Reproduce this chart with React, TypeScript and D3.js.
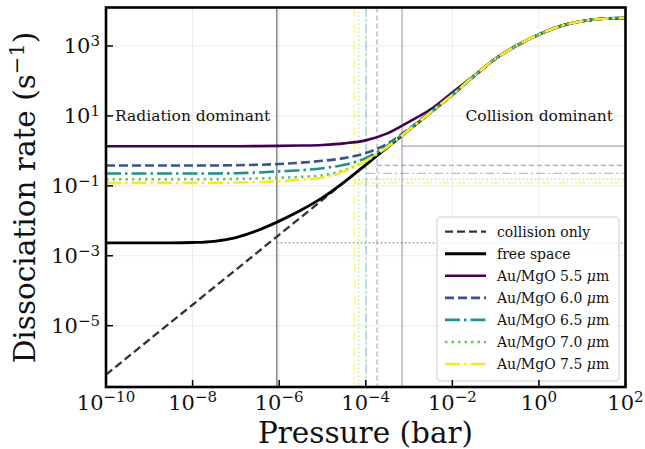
import * as d3 from "d3";

// pressure grid in bar (half-decade steps)
const pressure = [
  1e-10, 3.16e-10, 1e-9, 3.16e-9, 1e-8, 3.16e-8, 1e-7, 3.16e-7, 1e-6, 3.16e-6,
  1e-5, 3.16e-5, 1e-4, 3.16e-4, 1e-3, 3.16e-3, 1e-2, 3.16e-2, 0.1, 0.316,
  1, 3.16, 10, 31.6, 100,
];

// dissociation rates (s^-1)
const collisionOnly = [
  3.98e-7, 1.26e-6, 3.98e-6, 1.26e-5, 3.98e-5, 1.26e-4, 3.98e-4, 1.26e-3, 3.98e-3, 0.0126,
  0.0398, 0.126, 0.398, 1.26, 3.98, 12.6, 39.8, 138, 437, 1050,
  2140, 3720, 5130, 6030, 6310,
];
const freeSpace = [
  2.34e-3, 2.34e-3, 2.34e-3, 2.34e-3, 2.4e-3, 2.6e-3, 3.3e-3, 5.3e-3, 9.8e-3, 0.02,
  0.046, 0.128, 0.4, 1.26, 3.98, 12.6, 39.8, 138, 437, 1050,
  2140, 3720, 5130, 6030, 6310,
];
const auMgO55 = [
  1.36, 1.36, 1.36, 1.36, 1.36, 1.36, 1.36, 1.37, 1.39, 1.42,
  1.48, 1.64, 2.0, 3.16, 6.8, 15.5, 46.8, 140, 437, 1050,
  2140, 3720, 5130, 6030, 6310,
];
const auMgO60 = [
  0.383, 0.383, 0.383, 0.383, 0.383, 0.383, 0.39, 0.4, 0.42, 0.46,
  0.52, 0.62, 0.87, 1.6, 4.3, 13.2, 40.7, 138, 437, 1050,
  2140, 3720, 5130, 6030, 6310,
];
const auMgO65 = [
  0.226, 0.226, 0.226, 0.226, 0.226, 0.226, 0.23, 0.24, 0.26, 0.28,
  0.32, 0.4, 0.62, 1.41, 4.1, 12.8, 40.2, 138, 437, 1050,
  2140, 3720, 5130, 6030, 6310,
];
const auMgO70 = [
  0.155, 0.155, 0.155, 0.155, 0.155, 0.155, 0.158, 0.162, 0.17, 0.18,
  0.2, 0.28, 0.52, 1.3, 4.0, 12.7, 40, 138, 437, 1050,
  2140, 3720, 5130, 6030, 6310,
];
const auMgO75 = [
  0.122, 0.122, 0.122, 0.122, 0.122, 0.122, 0.125, 0.128, 0.135, 0.15,
  0.17, 0.26, 0.52, 1.3, 4.0, 12.7, 40, 138, 437, 1050,
  2140, 3720, 5130, 6030, 6310,
];

// crossover pressures and low-pressure rate levels (guide lines)
const crossPressure = [8.8e-7, 6.9e-4, 1.82e-4, 1.02e-4, 6.9e-5, 5.5e-5];
const crossRate = [2.34e-3, 1.36, 0.383, 0.226, 0.155, 0.122];

const xTicks = [1e-10, 1e-8, 1e-6, 1e-4, 1e-2, 1, 1e2];
const xTickExp = ["−10", "−8", "−6", "−4", "−2", "0", "2"];
const yTicks = [1e-5, 1e-3, 1e-1, 1e1, 1e3];
const yTickExp = ["−5", "−3", "−1", "1", "3"];

const legendLabels = ["collision only", "free space", "5.5", "6.0", "6.5", "7.0", "7.5"];

const FONT = "DejaVu Serif";
const viridis = ["#440154", "#3b528b", "#21918c", "#5ec962", "#fde725"];

const series = [
  { values: collisionOnly, color: "#333333", width: 2.3, dash: "8,4" },
  { values: freeSpace, color: "#000000", width: 2.8, dash: "" },
  { values: auMgO55, color: viridis[0], width: 2.6, dash: "" },
  { values: auMgO60, color: viridis[1], width: 2.6, dash: "9,4" },
  { values: auMgO65, color: viridis[2], width: 2.6, dash: "15,4,2.5,4" },
  { values: auMgO70, color: viridis[3], width: 2.6, dash: "2.5,4" },
  { values: auMgO75, color: viridis[4], width: 2.6, dash: "15,4,2.5,4" },
];

const guides = [
  { color: "#777777", hColor: "#777777", dash: "", hDash: "1.5,2.5", op: 0.85, hOp: 0.9 },
  { color: viridis[0], hColor: viridis[0], dash: "", hDash: "", op: 0.4, hOp: 0.4 },
  { color: viridis[1], hColor: viridis[1], dash: "5,3", hDash: "5,3", op: 0.45, hOp: 0.45 },
  { color: viridis[2], hColor: viridis[2], dash: "9,3,2,3", hDash: "9,3,2,3", op: 0.45, hOp: 0.45 },
  { color: viridis[3], hColor: viridis[3], dash: "1.5,2.5", hDash: "1.5,2.5", op: 0.55, hOp: 0.55 },
  { color: viridis[4], hColor: viridis[4], dash: "9,3,2,3", hDash: "9,3,2,3", op: 0.6, hOp: 0.6 },
];

export default function App() {
  const W = 645, H = 449;
  const L = 106, R = 625.5, T = 7.5, B = 387;

  const x = d3.scaleLog().domain([1e-10, 1e2]).range([L, R]);
  const y = d3.scaleLog().domain([Math.pow(10, -6.753), Math.pow(10, 4.101)]).range([B, T]);

  const line = d3.line<number>()
    .x((_, i) => x(pressure[i]))
    .y(d => y(d))
    .curve(d3.curveMonotoneX);

  const legX = 437, legY = 217, legW = 182, legH = 164;
  const rowY = (i: number) => 231.7 + i * 22.05;

  return (
    <svg width={W} height={H} style={{ position: "absolute", left: 0, top: 0, background: "#fff" }}
      fontFamily={FONT}>
      <defs>
        <clipPath id="plot">
          <rect x={L} y={T} width={R - L} height={B - T} />
        </clipPath>
      </defs>

      {/* grid */}
      <g stroke="#ebebeb" strokeWidth={1}>
        {xTicks.map((t, i) => <line key={"gx" + i} x1={x(t)} x2={x(t)} y1={T} y2={B} />)}
        {yTicks.map((t, i) => <line key={"gy" + i} x1={L} x2={R} y1={y(t)} y2={y(t)} />)}
      </g>

      {/* crossover guide lines */}
      <g clipPath="url(#plot)" fill="none">
        {guides.map((g, i) => (
          <g key={"g" + i}>
            <line x1={x(crossPressure[i])} x2={x(crossPressure[i])} y1={T} y2={B}
              stroke={g.color} strokeOpacity={g.op} strokeWidth={i === 0 ? 1.6 : 1.2}
              strokeDasharray={g.dash} />
            <line x1={x(crossPressure[i])} x2={R} y1={y(crossRate[i])} y2={y(crossRate[i])}
              stroke={g.hColor} strokeOpacity={g.hOp} strokeWidth={1.2}
              strokeDasharray={g.hDash} />
          </g>
        ))}
      </g>

      {/* curves */}
      <g clipPath="url(#plot)" fill="none">
        {series.map((s, i) => (
          <path key={"s" + i} d={line(s.values) || ""} stroke={s.color} strokeWidth={s.width}
            strokeDasharray={s.dash} />
        ))}
      </g>

      {/* annotations */}
      <text x={115} y={121} fontSize={15.5} fill="#111">Radiation dominant</text>
      <text x={613} y={121} fontSize={15.5} fill="#111" textAnchor="end">Collision dominant</text>

      {/* legend */}
      <rect x={legX} y={legY} width={legW} height={legH} rx={3} fill="#fff" fillOpacity={0.8}
        stroke="#cccccc" strokeWidth={1} />
      {series.map((s, i) => (
        <g key={"l" + i}>
          <line x1={445} x2={486} y1={rowY(i)} y2={rowY(i)} stroke={s.color}
            strokeWidth={s.width} strokeDasharray={s.dash} />
          <text x={497} y={rowY(i) + 5} fontSize={14} fill="#111">
            {i < 2 ? legendLabels[i] : (
              <>
                {"Au/MgO " + legendLabels[i] + " "}
                <tspan fontStyle="italic">μ</tspan>m
              </>
            )}
          </text>
        </g>
      ))}

      {/* ticks */}
      <g stroke="#000" strokeWidth={1.5}>
        {xTicks.map((t, i) => <line key={"tx" + i} x1={x(t)} x2={x(t)} y1={B} y2={B - 7} />)}
        {yTicks.map((t, i) => <line key={"ty" + i} x1={L} x2={L + 7} y1={y(t)} y2={y(t)} />)}
      </g>

      {/* frame */}
      <rect x={L} y={T} width={R - L} height={B - T} fill="none" stroke="#000" strokeWidth={2.6} />

      {/* tick labels */}
      {xTicks.map((t, i) => (
        <text key={"lx" + i} x={x(t)} y={409.5} fontSize={21} textAnchor="middle" fill="#111">
          10<tspan dy={-7.5} fontSize={15}>{xTickExp[i]}</tspan>
        </text>
      ))}
      {yTicks.map((t, i) => (
        <text key={"ly" + i} x={100} y={y(t) + 7.5} fontSize={21} textAnchor="end" fill="#111">
          10<tspan dy={-7.5} fontSize={15}>{yTickExp[i]}</tspan>
        </text>
      ))}

      {/* axis labels */}
      <text x={365.5} y={443} fontSize={29.5} textAnchor="middle" fill="#111">Pressure (bar)</text>
      <text transform="translate(35,197.5) rotate(-90)" fontSize={29.5} textAnchor="middle" fill="#111">
        Dissociation rate (s<tspan dy={-11} fontSize={21}>−1</tspan><tspan dy={11}>)</tspan>
      </text>
    </svg>
  );
}
